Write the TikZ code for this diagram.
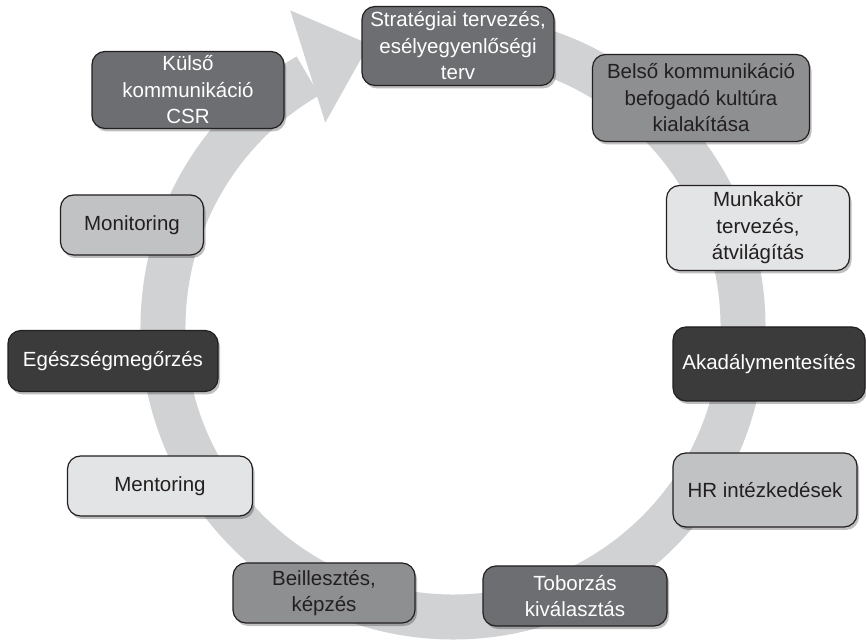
\documentclass[tikz,border=0pt]{standalone}
\usepackage{fontspec}
\setmainfont{Liberation Sans}
\usepackage{tikz}
\usetikzlibrary{shadows}

\definecolor{ringgrey}{HTML}{D1D2D4}
\definecolor{blackish}{HTML}{3B3B3C}
\definecolor{darkgrey}{HTML}{6D6E71}
\definecolor{midgrey}{HTML}{8E8F91}
\definecolor{lightgrey}{HTML}{C1C2C4}
\definecolor{palegrey}{HTML}{E3E4E5}
\definecolor{inkgrey}{HTML}{231F20}

\begin{document}
\begin{tikzpicture}[x=1pt, y=1pt,
box/.style={draw=inkgrey, line width=1.2pt, rounded corners=13pt, align=center,
  font=\fontsize{20.5}{26.5}\selectfont, inner sep=2pt,
  drop shadow={shadow xshift=2pt, shadow yshift=-3pt, opacity=.25, fill=black}},
vdark/.style={fill=blackish, text=white},
dark/.style={fill=darkgrey, text=white},
mid/.style={fill=midgrey, text=inkgrey},
light/.style={fill=lightgrey, text=inkgrey},
pale/.style={fill=palegrey, text=inkgrey}]
\useasboundingbox (0,0) rectangle (866,639);
\coordinate (c) at (453,312);

% the cycle ring with its arrow head
\draw [ringgrey, line width=45pt] ([shift={(c)}] 85:290) arc [start angle=85, end angle=-240, radius=290];
\fill [ringgrey] ([shift={(c)}] 117.2:356) -- ([shift={(c)}] 106.5:295) -- ([shift={(c)}] 122:241) -- cycle;

\node [box, dark, minimum width=192pt, minimum height=79pt] (strat) at (458,593) {Stratégiai tervezés,\\esélyegyenlőségi\\terv};
\node [box, mid, minimum width=217pt, minimum height=87pt] (belso) at (701,541) {Belső kommunikáció\\befogadó kultúra\\kialakítása};
\node [box, pale, minimum width=183pt, minimum height=85pt] (munka) at (758,411) {Munkakör\\tervezés,\\átvilágítás};
\node [box, vdark, minimum width=192pt, minimum height=74pt] (akad) at (769,275) {Akadálymentesítés};
\node [box, light, minimum width=184pt, minimum height=74pt] (hr) at (765,149) {HR intézkedések};
\node [box, dark, minimum width=184pt, minimum height=60pt] (tobor) at (575,43) {Toborzás\\kiválasztás};
\node [box, mid, minimum width=182pt, minimum height=60pt] (beill) at (324,46) {Beillesztés,\\képzés};
\node [box, pale, minimum width=185pt, minimum height=60pt] (mentor) at (160,153) {Mentoring};
\node [box, vdark, minimum width=210pt, minimum height=61pt] (egesz) at (113,278) {Egészségmegőrzés};
\node [box, light, minimum width=143pt, minimum height=60pt] (monit) at (132,414) {Monitoring};
\node [box, dark, minimum width=192pt, minimum height=77pt] (kulso) at (188,549) {Külső\\kommunikáció\\CSR};

\end{tikzpicture}
\end{document}
